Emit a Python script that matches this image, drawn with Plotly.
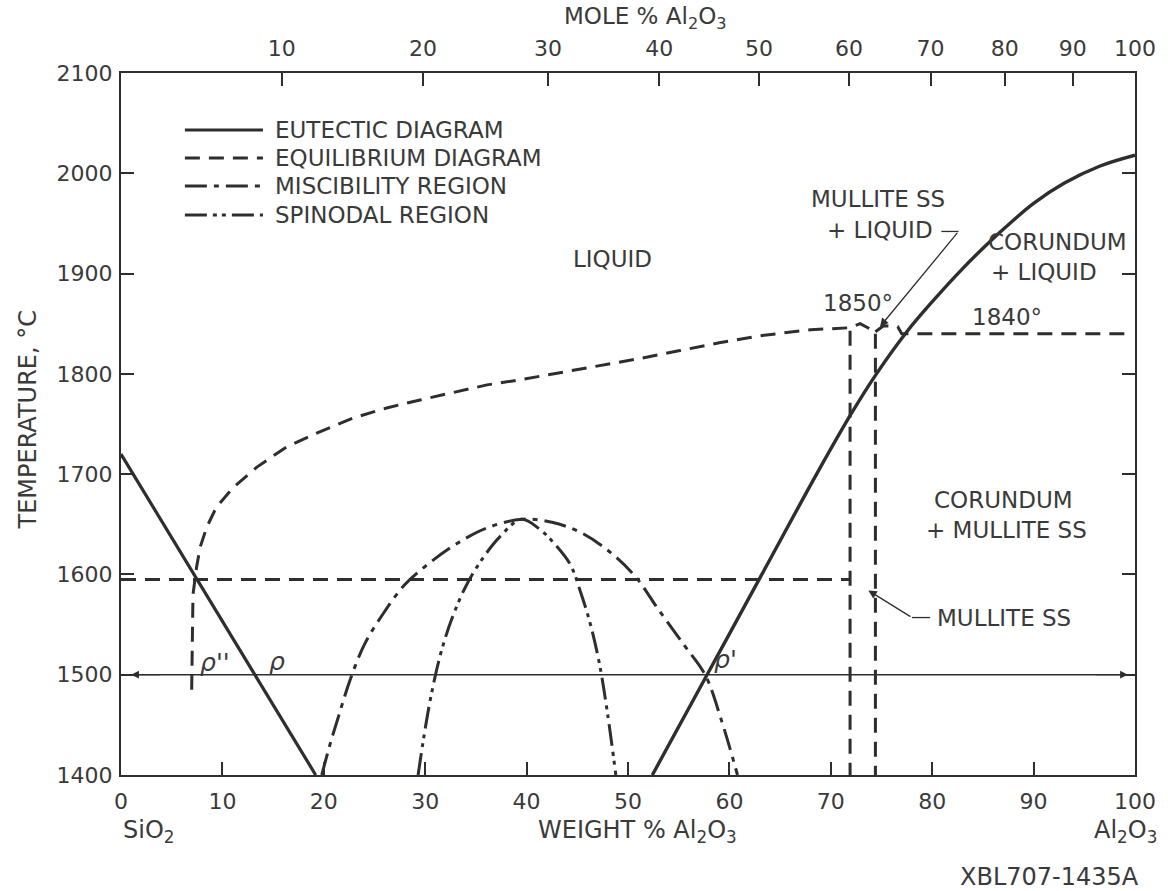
import plotly.graph_objects as go

# ---------------- data: wt % Al2O3 vs temperature (°C) ----------------
# eutectic diagram (solid)
eutectic_silica_wt = [0.0, 19.2]
eutectic_silica_T = [1720, 1400]
eutectic_alumina_wt = [52.4, 57.8, 63.2, 68.6, 72.0, 74.5, 77.5, 80.1, 83.0, 85.7, 87.2, 90.0,
                       93.0, 96.5, 100.0]
eutectic_alumina_T = [1400, 1500, 1600, 1700, 1760, 1800, 1842, 1873, 1905, 1932, 1946, 1970,
                      1990, 2007, 2018]

# equilibrium diagram (dashed)
liquidus_wt = [6.97, 7.1, 7.45, 7.8, 8.45, 9.4, 11.1, 13.4, 16.3, 19.3, 22.9, 26.2, 29.5, 32.7,
               36.1, 39.3, 45.0, 51.0, 55.0, 59.0, 63.0, 68.0, 71.9, 72.9, 74.4, 74.4]
liquidus_T = [1485, 1580, 1607, 1627, 1647, 1667, 1687, 1707, 1727, 1741, 1756, 1766, 1774, 1781,
              1789, 1794, 1804, 1815, 1823, 1831, 1838, 1844, 1846, 1850, 1842, 1400]
mullite_left_wt = [71.9, 71.9]
mullite_left_T = [1843, 1400]
solidus_wt = [0.0, 71.9]
solidus_T = [1595, 1595]
corundum_side_wt = [74.4, 75.2, 76.6, 77.0, 99.3]
corundum_side_T = [1842, 1848, 1847, 1840, 1840]

# miscibility region (binodal) and spinodal region
miscibility_wt = [19.8, 20.6, 21.5, 22.6, 24.0, 25.8, 28.0, 30.5, 33.0, 36.0, 39.5,
                  42.5, 45.5, 48.5, 50.8, 53.0, 55.5, 57.6, 59.2, 60.8]
miscibility_T = [1400, 1430, 1460, 1495, 1530, 1560, 1590, 1612, 1630, 1646, 1655,
                 1652, 1641, 1620, 1597, 1565, 1530, 1500, 1455, 1400]
spinodal_wt = [29.3, 29.9, 30.6, 31.5, 32.6, 34.0, 35.6, 37.4, 39.5, 41.3, 42.8, 44.3, 45.4,
               46.3, 47.2, 48.0, 48.8]
spinodal_T = [1400, 1440, 1480, 1520, 1555, 1588, 1615, 1638, 1655, 1645, 1630, 1610, 1580,
              1550, 1510, 1460, 1400]

# isotherm used for the density measurements
isotherm_wt = [0.0, 100.0]
isotherm_T = [1500, 1500]

# axis ticks
weight_ticks = [0, 10, 20, 30, 40, 50, 60, 70, 80, 90, 100]
temperature_ticks = [1400, 1500, 1600, 1700, 1800, 1900, 2000, 2100]
mole_ticks = [10, 20, 30, 40, 50, 60, 70, 80, 90, 100]

# key entries
key_names = ["EUTECTIC DIAGRAM", "EQUILIBRIUM DIAGRAM", "MISCIBILITY REGION", "SPINODAL REGION"]

M_AL2O3 = 101.96
M_SIO2 = 60.08


def mole_to_weight(m):
    """Mole % Al2O3 -> weight % Al2O3."""
    return 100.0 * m * M_AL2O3 / (m * M_AL2O3 + (100.0 - m) * M_SIO2)


INK = "#2e2e2e"
TEXT = "#3a3a3a"
FONT = "DejaVu Sans"

DASH_EQ = "15px,9px"
DASH_MISC = "22px,7px,5px,7px"
DASH_SPIN = "22px,6px,4px,5px,4px,6px"

key_styles = [dict(color=INK, width=3.2), dict(color=INK, width=3, dash=DASH_EQ),
              dict(color=INK, width=3, dash=DASH_MISC), dict(color=INK, width=3, dash=DASH_SPIN)]

fig = go.Figure()

fig.add_trace(go.Scatter(x=eutectic_silica_wt, y=eutectic_silica_T, mode="lines",
                         name=key_names[0], line=key_styles[0]))
fig.add_trace(go.Scatter(x=eutectic_alumina_wt, y=eutectic_alumina_T, mode="lines",
                         line_shape="spline", name=key_names[0], line=dict(color=INK, width=3.4)))
fig.add_trace(go.Scatter(x=liquidus_wt, y=liquidus_T, mode="lines",
                         name=key_names[1], line=key_styles[1]))
for xs, ys in [(mullite_left_wt, mullite_left_T), (solidus_wt, solidus_T),
               (corundum_side_wt, corundum_side_T)]:
    fig.add_trace(go.Scatter(x=xs, y=ys, mode="lines", name=key_names[1], line=key_styles[1]))
fig.add_trace(go.Scatter(x=miscibility_wt, y=miscibility_T, mode="lines", line_shape="spline",
                         name=key_names[2], line=key_styles[2]))
fig.add_trace(go.Scatter(x=spinodal_wt, y=spinodal_T, mode="lines", line_shape="spline",
                         name=key_names[3], line=key_styles[3]))
fig.add_trace(go.Scatter(x=isotherm_wt, y=isotherm_T, mode="lines", name="1500 °C",
                         line=dict(color=INK, width=1.4)))
# top (mole %) axis
fig.add_trace(go.Scatter(x=[], y=[], xaxis="x2"))

ann = []


def label(x, y, text, size=23, xanchor="center", ref="data", **kw):
    d = dict(x=x, y=y, text=text, showarrow=False, xanchor=xanchor, yanchor="middle",
             font=dict(family=FONT, size=size, color=TEXT))
    if ref == "paper":
        d.update(xref="paper", yref="paper")
    else:
        d.update(xref="x", yref="y")
    d.update(kw)
    ann.append(d)


# region labels
label(48.5, 1915, "LIQUID")
label(74.7, 1974, "MULLITE SS")
label(74.85, 1943, "+ LIQUID")
label(92.4, 1931, "CORUNDUM")
label(91.0, 1902, "+ LIQUID")
label(72.7, 1871, "1850°")
label(87.4, 1857, "1840°")
label(87.0, 1674, "CORUNDUM")
label(87.3, 1644, "+ MULLITE SS")
label(80.3, 1557, "MULLITE SS", xanchor="left")
label(9.3, 1512, "<i>ρ</i>''", size=25)
label(15.4, 1513, "<i>ρ</i>", size=25)
label(59.6, 1515, "<i>ρ</i>'", size=25)

# outer titles
label(0.517, 1.079, "MOLE % Al<sub>2</sub>O<sub>3</sub>", ref="paper", size=23)
label(-0.092, 0.506, "TEMPERATURE, °C", ref="paper", textangle=-90, size=24)
label(0.0, -0.081, "SiO<sub>2</sub>", ref="paper", xanchor="left", size=24)
label(0.509, -0.081, "WEIGHT % Al<sub>2</sub>O<sub>3</sub>", ref="paper", size=24)
label(1.024, -0.081, "Al<sub>2</sub>O<sub>3</sub>", ref="paper", xanchor="right", size=24)
label(1.006, -0.145, "XBL707-1435A", ref="paper", xanchor="right", size=24)

# key (line samples + text)
shapes = []
key_rows = [0.9188, 0.8789, 0.8390, 0.7977]
for name, style, yk in zip(key_names, key_styles, key_rows):
    shapes.append(dict(type="line", xref="paper", yref="paper", x0=0.063, x1=0.140,
                       y0=yk, y1=yk, line=style))
    label(0.150, yk, name, ref="paper", xanchor="left")

# leader arrows
arrow = dict(showarrow=True, text="", xref="x", yref="y", axref="x", ayref="y",
             arrowhead=2, arrowsize=1.3, arrowwidth=1.3, arrowcolor=INK)
ann.append(dict(arrow, x=74.85, y=1847, ax=82.6, ay=1942))
ann.append(dict(arrow, x=73.7, y=1584, ax=78.0, ay=1557))
ann.append(dict(arrow, x=1.0, y=1500, ax=4.0, ay=1500, arrowwidth=1.2))
ann.append(dict(arrow, x=99.3, y=1500, ax=96.0, ay=1500, arrowwidth=1.2))

shapes += [
    dict(type="line", xref="x", yref="y", x0=80.9, y0=1942, x1=82.6, y1=1942,
         line=dict(color=INK, width=1.3)),
    dict(type="line", xref="x", yref="y", x0=78.0, y0=1557, x1=79.8, y1=1557,
         line=dict(color=INK, width=1.3)),
]

axis_common = dict(showgrid=False, zeroline=False, showline=True, linecolor=INK, linewidth=2,
                   ticks="inside", ticklen=13, tickwidth=2, tickcolor=INK,
                   tickfont=dict(family=FONT, size=22, color=TEXT))

fig.update_layout(
    width=1168, height=891,
    margin=dict(l=121, r=33, t=73, b=116),
    paper_bgcolor="white", plot_bgcolor="white",
    showlegend=False,
    xaxis=dict(axis_common, range=[0, 100], tickmode="array", tickvals=weight_ticks,
               ticktext=[str(v) for v in weight_ticks], mirror=False, ticklabelstandoff=6),
    xaxis2=dict(axis_common, range=[0, 100], overlaying="x", side="top", anchor="y",
                tickmode="array", tickvals=[mole_to_weight(m) for m in mole_ticks],
                ticktext=[str(m) for m in mole_ticks], ticklabelstandoff=6),
    yaxis=dict(axis_common, range=[1400, 2100], tickmode="array", tickvals=temperature_ticks,
               ticktext=[str(v) for v in temperature_ticks], mirror="ticks", ticklabelstandoff=2),
    annotations=ann,
    shapes=shapes,
)

fig.write_html("out.html")
